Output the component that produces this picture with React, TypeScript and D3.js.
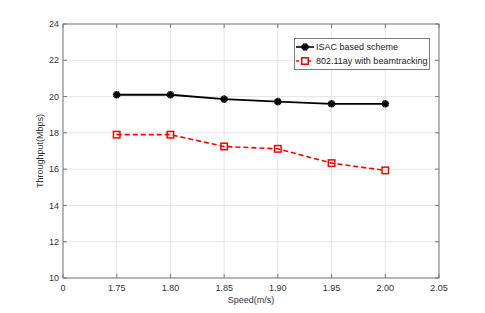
import * as d3 from "d3";
import { useEffect, useRef } from "react";

// x axis is categorical: labels drawn at equal spacing
const xTicks = ["0", "1.75", "1.80", "1.85", "1.90", "1.95", "2.00", "2.05"];
const speeds = ["1.75", "1.80", "1.85", "1.90", "1.95", "2.00"];
const isac = [20.1, 20.1, 19.86, 19.72, 19.6, 19.6];
const ay = [17.9, 17.9, 17.25, 17.12, 16.33, 15.93];
const yTicks = [10, 12, 14, 16, 18, 20, 22, 24];
const seriesNames = ["ISAC based scheme", "802.11ay with beamtracking"];

const App = () => {
    const svgRef = useRef<SVGSVGElement | null>(null);

    useEffect(() => {
        if (!svgRef.current) return;

        const width = 485;
        const height = 313;
        const left = 63, right = 439, top = 24, bottom = 278;
        const font = "'Liberation Sans', Arial, Helvetica, sans-serif";
        const fs = 9;

        const svg = d3.select(svgRef.current);
        svg.selectAll("*").remove();
        svg.attr("width", width).attr("height", height);

        svg.append("rect").attr("width", width).attr("height", height).attr("fill", "#fff");

        const x = d3.scalePoint<string>().domain(xTicks).range([left, right]);
        const y = d3.scaleLinear().domain([10, 24]).range([bottom, top]);

        // grid
        const grid = svg.append("g").attr("stroke", "#e6e6e6").attr("stroke-width", 1);
        xTicks.forEach(t => {
            grid.append("line")
                .attr("x1", x(t)!).attr("x2", x(t)!)
                .attr("y1", top).attr("y2", bottom);
        });
        yTicks.forEach(t => {
            grid.append("line")
                .attr("x1", left).attr("x2", right)
                .attr("y1", y(t)).attr("y2", y(t));
        });

        // box + inward ticks
        const axisColor = "#7a7a7a";
        svg.append("rect")
            .attr("x", left).attr("y", top)
            .attr("width", right - left).attr("height", bottom - top)
            .attr("fill", "none").attr("stroke", axisColor).attr("stroke-width", 1);

        const ticks = svg.append("g").attr("stroke", axisColor).attr("stroke-width", 1);
        xTicks.forEach(t => {
            ticks.append("line").attr("x1", x(t)!).attr("x2", x(t)!).attr("y1", bottom).attr("y2", bottom - 4);
            ticks.append("line").attr("x1", x(t)!).attr("x2", x(t)!).attr("y1", top).attr("y2", top + 4);
        });
        yTicks.forEach(t => {
            ticks.append("line").attr("x1", left).attr("x2", left + 4).attr("y1", y(t)).attr("y2", y(t));
            ticks.append("line").attr("x1", right).attr("x2", right - 4).attr("y1", y(t)).attr("y2", y(t));
        });

        // tick labels
        svg.append("g").selectAll("text").data(xTicks).join("text")
            .attr("x", d => x(d)!).attr("y", bottom + 13)
            .attr("text-anchor", "middle")
            .attr("font-family", font).attr("font-size", fs).attr("fill", "#333")
            .text(d => d);
        svg.append("g").selectAll("text").data(yTicks).join("text")
            .attr("x", left - 4).attr("y", d => y(d) + 3.2)
            .attr("text-anchor", "end")
            .attr("font-family", font).attr("font-size", fs).attr("fill", "#333")
            .text(d => d);

        // axis titles
        svg.append("text")
            .attr("x", (left + right) / 2).attr("y", bottom + 25)
            .attr("text-anchor", "middle")
            .attr("font-family", font).attr("font-size", fs).attr("fill", "#333")
            .text("Speed(m/s)");
        svg.append("text")
            .attr("transform", `translate(${left - 20},${(top + bottom) / 2}) rotate(-90)`)
            .attr("text-anchor", "middle")
            .attr("font-family", font).attr("font-size", fs).attr("fill", "#333")
            .text("Throughput(Mbps)");

        const line = d3.line<number>()
            .x((_, i) => x(speeds[i])!)
            .y(d => y(d));

        // red dashed series
        svg.append("path").datum(ay)
            .attr("fill", "none").attr("stroke", "#ff0000")
            .attr("stroke-width", 1.6).attr("stroke-dasharray", "5,3")
            .attr("d", line);
        svg.append("g").selectAll("rect").data(ay).join("rect")
            .attr("x", (_, i) => x(speeds[i])! - 3.25)
            .attr("y", d => y(d) - 3.25)
            .attr("width", 6.5).attr("height", 6.5)
            .attr("fill", "none").attr("stroke", "#ff0000").attr("stroke-width", 1.5);

        // black series
        svg.append("path").datum(isac)
            .attr("fill", "none").attr("stroke", "#000")
            .attr("stroke-width", 1.8)
            .attr("d", line);
        const star = d3.symbol().type(d3.symbolAsterisk).size(40);
        const drawStar = (g: d3.Selection<any, any, any, any>, cx: number, cy: number) => {
            g.append("path").attr("transform", `translate(${cx},${cy})`).attr("d", star)
                .attr("fill", "none").attr("stroke", "#000").attr("stroke-width", 1.5);
            g.append("path").attr("transform", `translate(${cx},${cy}) rotate(90)`).attr("d", star)
                .attr("fill", "none").attr("stroke", "#000").attr("stroke-width", 1.5);
        };
        const stars = svg.append("g");
        isac.forEach((d, i) => drawStar(stars, x(speeds[i])!, y(d)));

        // legend
        const lg = svg.append("g");
        lg.append("rect")
            .attr("x", 294.5).attr("y", 38.5).attr("width", 135).attr("height", 31)
            .attr("fill", "#fff").attr("stroke", "#7a7a7a").attr("stroke-width", 1);
        const rows = [47, 61];
        lg.append("line").attr("x1", 296).attr("x2", 314).attr("y1", rows[0]).attr("y2", rows[0])
            .attr("stroke", "#000").attr("stroke-width", 1.6);
        drawStar(lg, 305, rows[0]);
        lg.append("line").attr("x1", 296).attr("x2", 314).attr("y1", rows[1]).attr("y2", rows[1])
            .attr("stroke", "#ff0000").attr("stroke-width", 1.6).attr("stroke-dasharray", "3,3");
        lg.append("rect").attr("x", 301.75).attr("y", rows[1] - 3.25).attr("width", 6.5).attr("height", 6.5)
            .attr("fill", "#fff").attr("stroke", "#ff0000").attr("stroke-width", 1.5);
        seriesNames.forEach((n, i) => {
            lg.append("text")
                .attr("x", 316).attr("y", rows[i] + 3.2)
                .attr("font-family", font).attr("font-size", fs).attr("fill", "#222")
                .text(n);
        });
    }, []);

    return (
        <svg ref={svgRef} style={{ position: "absolute", left: 0, top: 0, display: "block" }}></svg>
    );
};

export default App;
